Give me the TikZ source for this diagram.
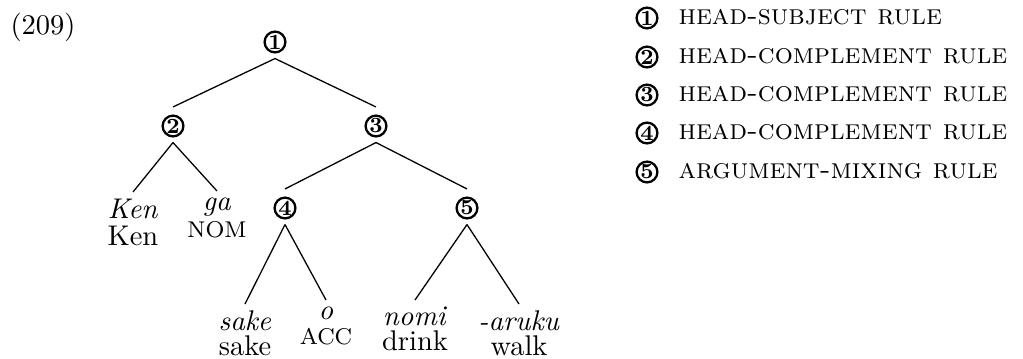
\documentclass[tikz,border=0pt]{standalone}
\usetikzlibrary{calc}
\begin{document}
\begin{tikzpicture}[x=0.351pt,y=-0.351pt,
  cnum/.style={circle,draw,line width=0.8pt,inner sep=0pt,minimum size=7.3pt,font=\fontsize{7.6}{8}\selectfont\bfseries},
  leaf/.style={anchor=north,align=center,inner sep=0pt},
  rule/.style={anchor=base west,inner sep=0pt,font=\scshape},
  branch/.style={line width=0.45pt}]
\useasboundingbox (0,0) rectangle (1023,358);
\node[anchor=base west,inner sep=0pt] (ex) at (10,34) {(209)};
% tree
\node[cnum] (n1) at (275,42) {1};
\node[cnum] (n2) at (173,126) {2};
\node[cnum] (n3) at (376,126) {3};
\node[cnum] (n4) at (285,208) {4};
\node[cnum] (n5) at (467,208) {5};
\node[leaf] (ken) at (133,198) {\textit{Ken}\\[-2.5pt]Ken};
\node[leaf] (ga) at (217,197) {\textit{ga}\\[-2.5pt]{\footnotesize NOM}};
\node[leaf] (sake) at (245,310) {\textit{sake}\\[-3pt]sake};
\node[leaf] (o) at (326,306) {\textit{o}\\[-3pt]{\footnotesize ACC}};
\node[leaf] (nomi) at (415,306) {\textit{nomi}\\[-3pt]drink};
\node[leaf] (aruku) at (519,310) {\textit{-aruku}\\[-3pt]walk};
\foreach \p/\c in {n1/n2,n1/n3,n3/n4,n3/n5}
  \draw[branch] ($(\p.south)+(0,5)$) -- ($(\c.north)+(0,-7.5)$);
\foreach \p/\c in {n2/ken,n2/ga,n4/sake,n4/o,n5/nomi,n5/aruku}
  \draw[branch] ($(\p.south)+(0,5)$) -- ($(\c.north)+(0,-6)$);
% legend
\node[cnum] (l1) at (647,18) {1};
\node[cnum] (l2) at (647,57) {2};
\node[cnum] (l3) at (647,95) {3};
\node[cnum] (l4) at (647,133) {4};
\node[cnum] (l5) at (647,172) {5};
\node[rule] (r1) at (678,24) {head-subject rule};
\node[rule] (r2) at (678,63) {head-complement rule};
\node[rule] (r3) at (678,101) {head-complement rule};
\node[rule] (r4) at (678,139) {head-complement rule};
\node[rule] (r5) at (678,178) {argument-mixing rule};
\end{tikzpicture}
\end{document}
